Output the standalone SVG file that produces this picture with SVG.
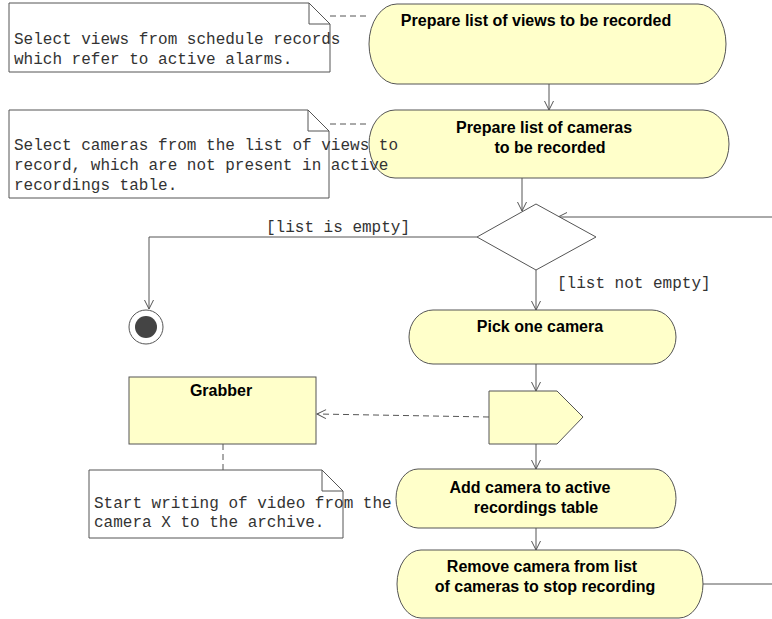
<svg xmlns="http://www.w3.org/2000/svg" width="772" height="619" viewBox="0 0 772 619">
  <defs>
    <style>
      .act { fill: #ffffca; stroke: #555555; stroke-width: 1; }
      .note { fill: #ffffff; stroke: #555555; stroke-width: 1; }
      .fold { fill: none; stroke: #555555; stroke-width: 1; }
      .flow { fill: none; stroke: #555555; stroke-width: 1; }
      .dash { fill: none; stroke: #555555; stroke-width: 1; stroke-dasharray: 6 4; }
      .lbl { font-family: "Liberation Sans", Arial, sans-serif; font-size: 16px; font-weight: bold; fill: #000000; text-anchor: middle; }
      .mono { font-family: "Liberation Mono", "Courier New", monospace; font-size: 16px; fill: #333333; }
    </style>
    <marker id="open" markerUnits="userSpaceOnUse" markerWidth="14" markerHeight="14" viewBox="-11 -7 14 14" refX="0" refY="0" orient="auto">
      <path d="M-9,-4.5 L0,0 L-9,4.5" fill="none" stroke="#555555" stroke-width="1"/>
    </marker>
  </defs>

  <rect width="772" height="619" fill="#ffffff"/>

  <!-- control flows and note anchors -->
  <g id="connectors">
    <line class="flow" x1="549" y1="84" x2="549" y2="110" marker-end="url(#open)"/>
    <line class="flow" x1="522" y1="178" x2="522" y2="211" marker-end="url(#open)"/>
    <line class="flow" x1="772" y1="217" x2="558" y2="217" marker-end="url(#open)"/>
    <polyline class="flow" points="477,237 149,237 149,309" marker-end="url(#open)"/>
    <line class="flow" x1="536" y1="270" x2="536" y2="310" marker-end="url(#open)"/>
    <line class="flow" x1="536" y1="364" x2="536" y2="391" marker-end="url(#open)"/>
    <line class="flow" x1="536" y1="444" x2="536" y2="469" marker-end="url(#open)"/>
    <line class="flow" x1="536" y1="528" x2="536" y2="550" marker-end="url(#open)"/>
    <line class="flow" x1="703" y1="584" x2="772" y2="584"/>
    <line class="dash" x1="489" y1="417" x2="317" y2="414" marker-end="url(#open)"/>
    <line class="dash" x1="330" y1="16" x2="370" y2="16"/>
    <line class="dash" x1="330" y1="124" x2="369" y2="124"/>
    <line class="dash" x1="223" y1="444" x2="223" y2="470"/>
    <text class="mono" x="266" y="232">[list is empty]</text>
    <text class="mono" x="557" y="288">[list not empty]</text>
  </g>

  <g id="prepare-views">
    <rect class="act" x="369" y="4" width="357" height="80" rx="28" ry="40"/>
    <text class="lbl" x="536" y="26">Prepare list of views to be recorded</text>
  </g>

  <g id="prepare-cameras">
    <rect class="act" x="369" y="110" width="360" height="68" rx="26" ry="34"/>
    <text class="lbl" x="544" y="133">Prepare list of cameras</text>
    <text class="lbl" x="550" y="153">to be recorded</text>
  </g>

  <g id="decision">
    <polygon class="act" points="536,204 596,237 536,270 477,237" style="fill:#ffffff"/>
  </g>

  <g id="final">
    <circle cx="146" cy="327" r="17" fill="#ffffff" stroke="#555555" stroke-width="1"/>
    <circle cx="146" cy="327" r="11" fill="#444444"/>
  </g>

  <g id="pick-camera">
    <rect class="act" x="409" y="310" width="267" height="54" rx="24" ry="27"/>
    <text class="lbl" x="540" y="332">Pick one camera</text>
  </g>

  <g id="send-signal">
    <polygon class="act" points="489,391 557,391 583,417 557,444 489,444"/>
  </g>

  <g id="grabber">
    <rect class="act" x="129" y="377" width="187" height="67"/>
    <text class="lbl" x="221" y="396">Grabber</text>
  </g>

  <g id="add-camera">
    <rect class="act" x="396" y="469" width="280" height="59" rx="22" ry="29.5"/>
    <text class="lbl" x="530" y="493">Add camera to active</text>
    <text class="lbl" x="536" y="513">recordings table</text>
  </g>

  <g id="remove-camera">
    <rect class="act" x="397" y="550" width="306" height="68" rx="24" ry="34"/>
    <text class="lbl" x="542" y="572">Remove camera from list</text>
    <text class="lbl" x="545" y="592">of cameras to stop recording</text>
  </g>

  <g id="note-views">
    <path class="note" d="M9,3 H309 L330,24 V72 H9 Z"/>
    <path class="fold" d="M309,3 V24 H330"/>
    <text class="mono" x="14" y="44">Select views from schedule records</text>
    <text class="mono" x="14" y="64">which refer to active alarms.</text>
  </g>

  <g id="note-cameras">
    <path class="note" d="M9,110 H308 L329,131 V198 H9 Z"/>
    <path class="fold" d="M308,110 V131 H329"/>
    <text class="mono" x="14" y="150">Select cameras from the list of views to</text>
    <text class="mono" x="14" y="170">record, which are not present in active</text>
    <text class="mono" x="14" y="190">recordings table.</text>
  </g>

  <g id="note-grabber">
    <path class="note" d="M89,470 H322 L343,491 V538 H89 Z"/>
    <path class="fold" d="M322,470 V491 H343"/>
    <text class="mono" x="94" y="508">Start writing of video from the</text>
    <text class="mono" x="94" y="527">camera X to the archive.</text>
  </g>
</svg>
